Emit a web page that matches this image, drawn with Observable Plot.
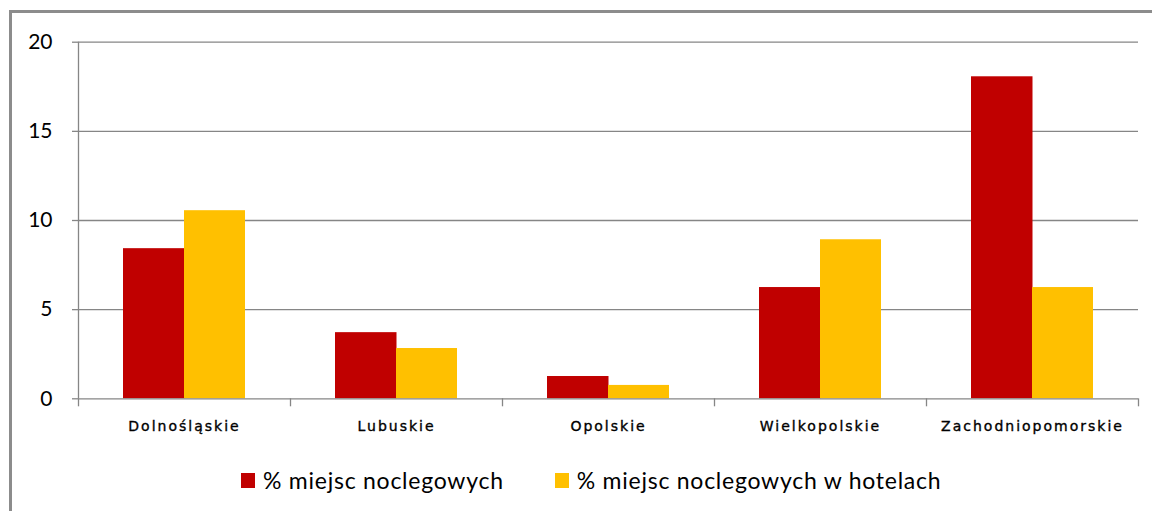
<!DOCTYPE html>
<html>
<head>
<meta charset="utf-8">
<script src="https://cdn.jsdelivr.net/npm/d3@7"></script>
<script src="https://cdn.jsdelivr.net/npm/@observablehq/plot@0.6"></script>
<style>
  html, body { margin: 0; padding: 0; background: #fff; }
  #wrap { position: relative; width: 1152px; height: 511px; overflow: hidden; }
  #border { position: absolute; left: 9px; top: 10px; width: 1300px; height: 700px; border-left: 3px solid #8c8c8c; border-top: 3px solid #8c8c8c; box-sizing: border-box; }
  #chart { position: absolute; left: 0; top: 0; }
  #chart g[aria-label="x-axis tick label"] text { letter-spacing: 2px; stroke: #000; stroke-width: 0.35px; }
  #legend { position: absolute; top: 466px; left: 241px; display: flex; align-items: center; font-family: Lato, "Open Sans", sans-serif; font-size: 23px; letter-spacing: 0.75px; color: #000; }
  .item { display: flex; align-items: center; }
  .sw { width: 14px; height: 15px; margin-right: 8px; }
</style>
</head>
<body>
<div id="wrap">
  <div id="border"></div>
  <div id="chart"></div>
  <div id="legend"></div>
</div>
<script>
const categories = ["Dolnośląskie", "Lubuskie", "Opolskie", "Wielkopolskie", "Zachodniopomorskie"];
const seriesNames = ["% miejsc noclegowych", "% miejsc noclegowych w hotelach"];
const valuesAll = [8.42, 3.71, 1.25, 6.24, 18.06];
const valuesHotels = [10.55, 2.82, 0.75, 8.92, 6.24];
const yTicks = [0, 5, 10, 15, 20];
const seriesColors = ["#C00000", "#FFC000"];

const rowsAll = categories.map((c, i) => ({category: c, series: seriesNames[0], value: valuesAll[i]}));
const rowsHotels = categories.map((c, i) => ({category: c, series: seriesNames[1], value: valuesHotels[i]}));

const W = 1152, H = 450;
const mL = 78, mR = 14, mT = 41.7, mB = 51.7;
const bw = (W - mL - mR) / categories.length;
const barW = 61;
const gray = "#868686";

const chart = Plot.plot({
  width: W, height: H,
  marginLeft: mL, marginRight: mR, marginTop: mT, marginBottom: mB,
  style: {fontFamily: "Lato, sans-serif", color: "#000", background: "transparent"},
  x: {domain: categories, padding: 0, label: null},
  y: {domain: [0, 20], label: null},
  color: {domain: seriesNames, range: seriesColors},
  marks: [
    Plot.ruleY(yTicks.slice(1), {stroke: gray, strokeWidth: 1.3}),
    Plot.barY(rowsAll, {x: "category", y: "value", fill: "series", insetLeft: bw / 2 - barW, insetRight: bw / 2 - 0.5}),
    Plot.barY(rowsHotels, {x: "category", y: "value", fill: "series", insetLeft: bw / 2, insetRight: bw / 2 - barW}),
    Plot.ruleY([0], {stroke: gray, strokeWidth: 1.3}),
    Plot.ruleX([categories[0]], {dx: -bw / 2, stroke: gray, strokeWidth: 1.3}),
    Plot.ruleX(categories, {x: d => d, dx: -bw / 2, y1: 0, y2: 0, insetBottom: -8, stroke: gray, strokeWidth: 1.3}),
    Plot.ruleX([categories[categories.length - 1]], {dx: bw / 2, y1: 0, y2: 0, insetBottom: -8, stroke: gray, strokeWidth: 1.3}),
    Plot.axisY({ticks: yTicks, tickSize: 6, tickPadding: 20, fontSize: 21, stroke: gray, strokeWidth: 1.3, fontFamily: "Lato, sans-serif"}),
    Plot.axisX({tickSize: 0, tickPadding: 22, fontSize: 14, fontFamily: "DejaVu Sans, sans-serif"})
  ]
});
document.getElementById("chart").appendChild(chart);

const legend = document.getElementById("legend");
seriesNames.forEach((name, i) => {
  const item = document.createElement("div");
  item.className = "item";
  if (i > 0) item.style.marginLeft = "51px";
  const sw = document.createElement("div");
  sw.className = "sw";
  sw.style.background = seriesColors[i];
  const label = document.createElement("span");
  label.textContent = name;
  item.appendChild(sw);
  item.appendChild(label);
  legend.appendChild(item);
});
</script>
</body>
</html>
